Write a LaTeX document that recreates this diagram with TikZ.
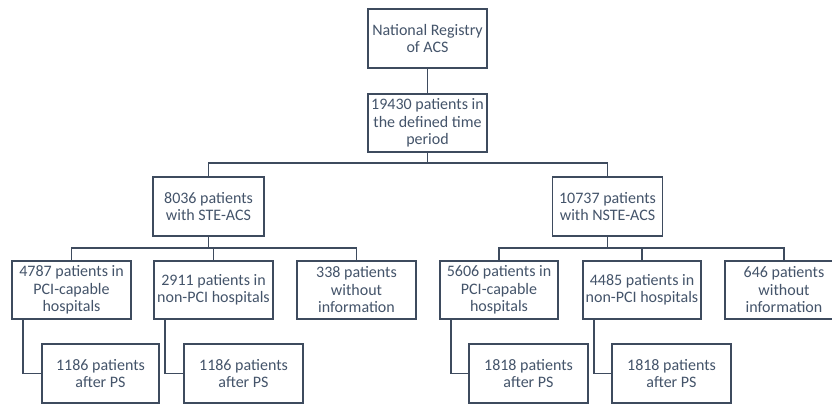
\documentclass[tikz,border=0pt]{standalone}
\usepackage{fontspec}
\setmainfont{Carlito}
\usetikzlibrary{calc}
\definecolor{boxc}{HTML}{3E4B5E}
\definecolor{txtc}{HTML}{44546A}
\tikzset{
  box/.style={draw=boxc, line width=1.8pt, fill=white, align=center, text=txtc,
    font=\fontsize{16}{17.5}\selectfont, inner sep=0pt, minimum height=58pt},
  link/.style={draw=boxc, line width=1.8pt},
}
\begin{document}
\begin{tikzpicture}[x=1pt,y=-1pt]
\useasboundingbox (0,0) rectangle (832,406);
\clip (0,0) rectangle (832,406);
% nodes
\node[box, minimum width=119pt, minimum height=59pt] (reg) at (427.5,38.5) {National Registry\\of ACS};
\node[box, minimum width=119pt] (all) at (427.5,123) {19430 patients in\\the defined time\\period};
\node[box, minimum width=111pt, minimum height=59pt] (ste) at (208.5,206.5) {8036 patients\\with STE-ACS};
\node[box, minimum width=110pt, minimum height=59pt] (nste) at (607.5,206.5) {10737 patients\\with NSTE-ACS};
% STE children
\node[box, minimum width=119pt] (s1) at (71.5,290) {4787 patients in\\PCI-capable\\hospitals};
\node[box, minimum width=119pt] (s2) at (213.5,290) {2911 patients in\\non-PCI hospitals};
\node[box, minimum width=119pt] (s3) at (356.5,290) {338 patients\\without\\information};
% NSTE children
\node[box, minimum width=118pt] (n1) at (499,290) {5606 patients in\\PCI-capable\\hospitals};
\node[box, minimum width=118pt] (n2) at (642,290) {4485 patients in\\non-PCI hospitals};
\node[box, minimum width=118pt] (n3) at (784,290) {646 patients\\without\\information};
% PS boxes
\node[box, minimum width=117pt, minimum height=59pt] (sp1) at (100.5,373.5) {1186 patients\\after PS};
\node[box, minimum width=119pt, minimum height=59pt] (sp2) at (243.5,373.5) {1186 patients\\after PS};
\node[box, minimum width=119pt, minimum height=59pt] (np1) at (528.5,373.5) {1818 patients\\after PS};
\node[box, minimum width=119pt, minimum height=59pt] (np2) at (671.5,373.5) {1818 patients\\after PS};
% connectors
\coordinate (b1) at (427.5,163);
\coordinate (bs) at (208.5,248);
\coordinate (bn) at (642,248);
\draw[link] (reg) -- (all);
\draw[link] (all) -- (b1);
\draw[link] (ste.north) |- (b1) -| (nste.north);
\draw[link] (ste) -- (bs);
\draw[link] (s1.north) |- (bs) -| (s3.north);
\draw[link] (s2.north) -- (s2.north |- bs);
\draw[link] (nste.south) -- (nste.south |- bn);
\draw[link] (n1.north) |- (bn) -| (n3.north);
\draw[link] (n2.north) -- (n2.north |- bn);
\draw[link] ($(s1.south west)+(12,0)$) |- (sp1.west);
\draw[link] ($(s2.south west)+(12,0)$) |- (sp2.west);
\draw[link] ($(n1.south west)+(12,0)$) |- (np1.west);
\draw[link] ($(n2.south west)+(12,0)$) |- (np2.west);
\end{tikzpicture}
\end{document}
